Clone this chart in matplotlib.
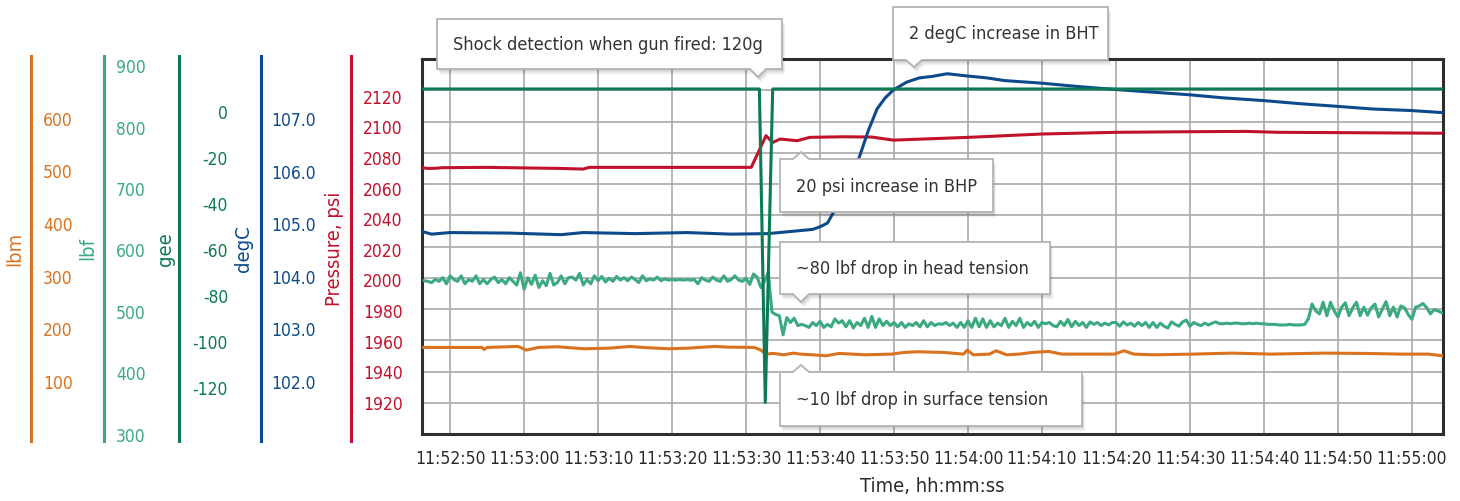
import numpy as np
import matplotlib
matplotlib.use("Agg")
import matplotlib.pyplot as plt
from matplotlib.ticker import MultipleLocator, FuncFormatter
from matplotlib.patches import Polygon
from datetime import datetime, timedelta

plt.rcParams["font.family"] = ["DejaVu Sans"]
plt.rcParams["font.stretch"] = "condensed"

# time axis: seconds after 11:52:50
T0 = datetime(2000, 1, 1, 11, 52, 50)
XLIM = (-3.8, 134.2)

# --- pressure, psi (BHP) ---
p_t = [-3.8, -3.0, -2.0, -1.0, 5.0, 14.9, 18.0, 18.8, 30.0, 40.7, 42.7, 43.6, 44.6,
       46.9, 48.6, 53.2, 57.0, 59.9, 70.0, 80.0, 90.0, 100.0, 107.5, 112.0, 120.0, 134.2]
p_v = [2073.0, 2072.5, 2072.6, 2073.0, 2073.2, 2072.5, 2072.1, 2073.2, 2073.2, 2073.2,
       2093.9, 2089.5, 2091.7, 2090.6, 2092.8, 2093.2, 2093.0, 2091.0, 2092.8, 2095.0,
       2096.1, 2096.5, 2096.7, 2096.1, 2095.9, 2095.5]

# --- temperature, degC (BHT) ---
t_t = [-3.8, -2.5, 0, 8, 15, 18, 25, 32, 38, 43, 46, 49, 50, 51, 51.8, 53, 54, 55.3,
       56.5, 57.7, 58.8, 59.9, 61.7, 63.4, 65.2, 67.2, 69.7, 72.6, 74.9, 80, 84.6, 89.9,
       94.9, 99.9, 104.6, 109.9, 114.9, 119.9, 124.6, 129.9, 134.2]
t_v = [104.84, 104.79, 104.82, 104.81, 104.78, 104.82, 104.80, 104.82, 104.79, 104.80,
       104.84, 104.88, 104.93, 105.00, 105.20, 105.55, 105.85, 106.25, 106.75, 107.17,
       107.38, 107.53, 107.68, 107.76, 107.79, 107.84, 107.80, 107.76, 107.71, 107.66,
       107.60, 107.54, 107.49, 107.44, 107.38, 107.33, 107.27, 107.22, 107.17, 107.14, 107.10]

# --- shock, gee ---
g_t = [-3.8, 41.8, 42.6, 43.6, 134.2]
g_v = [9.4, 9.4, -126.5, 9.4, 9.4]

# --- surface tension, lbm ---
m_t = [-3.8, 4.3, 4.6, 5.0, 9.2, 10.3, 11.9, 14.5, 18.1, 21.6, 24.3, 26.0, 29.6, 32.2,
       35.8, 37.5, 41.1, 42.0, 42.7, 43.7, 45.1, 46.4, 47.3, 49.0, 50.8, 52.6, 56.1, 59.7,
       61.4, 63.2, 66.7, 69.4, 69.9, 70.7, 72.9, 73.8, 75.2, 76.9, 78.7, 80.9, 82.7, 86.2,
       89.8, 91.1, 92.4, 95.1, 100.4, 105.7, 111.0, 118.1, 123.4, 128.7, 132.2, 134.2]
m_v = [163.2, 163.2, 159.4, 163.2, 165.1, 158.1, 163.2, 164.5, 160.7, 161.9, 165.1, 163.2,
       160.7, 161.9, 165.1, 163.8, 163.2, 158.1, 150.5, 151.8, 149.2, 152.4, 150.5, 149.2,
       147.3, 151.8, 149.2, 150.5, 153.7, 155.0, 153.7, 150.5, 158.1, 149.2, 150.5, 156.9,
       149.2, 150.5, 153.7, 155.6, 150.5, 150.5, 150.5, 156.9, 150.5, 149.2, 150.5, 152.4,
       150.5, 152.4, 151.8, 150.5, 150.5, 147.3]

# --- head tension, lbf (sampled every 0.5 s, three logged blocks) ---
LBF_DT = 0.5
lbf_pre_start = -3.5
lbf_pre = [549, 548, 546, 551, 548, 554, 544, 557, 551, 548,
           557, 544, 551, 548, 557, 544, 551, 544, 551, 555,
           546, 551, 544, 554, 548, 542, 562, 535, 554, 543,
           558, 538, 549, 541, 561, 542, 546, 557, 544, 554,
           555, 550, 561, 542, 551, 544, 557, 549, 556, 547,
           553, 548, 556, 550, 554, 549, 555, 551, 546, 557,
           549, 552, 550, 555, 549, 552, 550, 551, 550, 551,
           550, 551, 550, 551, 544, 554, 550, 548, 555, 550,
           548, 557, 548, 551, 557, 550, 548, 553, 543, 560,
           555]
lbf_mid_start = 42.0
lbf_mid = [538, 548, 563, 498, 494, 492, 461, 489, 481, 488,
           476, 478, 476, 473, 481, 476, 483, 473, 478, 474,
           487, 480, 484, 474, 484, 472, 481, 476, 488, 473,
           491, 473, 487, 476, 483, 476, 481, 474, 481, 473,
           479, 476, 481, 474, 484, 474, 481, 476, 479, 478,
           481, 476, 480, 473, 481, 473, 484, 473, 488, 474,
           487, 473, 484, 474, 480, 476, 488, 473, 483, 476,
           488, 473, 481, 476, 483, 473, 481, 479, 481, 476,
           474, 483, 476, 486, 474, 483, 476, 481, 473, 482,
           478, 481, 476, 480, 477, 481]
lbf_end_start = 90.0
lbf_end = [481, 475, 482, 477, 480, 475, 481, 476, 481, 473,
           481, 473, 480, 475, 472, 482, 478, 475, 482, 485,
           475, 481, 478, 476, 480, 477, 480, 482, 479, 479,
           480, 479, 480, 480, 479, 479, 480, 479, 480, 479,
           479, 478, 478, 478, 477, 477, 477, 478, 477, 477,
           477, 478,
           487, 511, 500, 495, 514, 492, 514, 500, 490, 506,
           513, 492, 505, 514, 492, 506, 493, 505, 511, 490,
           503, 515, 492, 506, 490, 508, 505, 494, 486, 506,
           508, 512, 505, 495, 502, 500, 497]

notes = ["Shock detection when gun fired: 120g",
         "2 degC increase in BHT",
         "20 psi increase in BHP",
         "~80 lbf drop in head tension",
         "~10 lbf drop in surface tension"]

# ------------------------------------------------------------------
C_LBM, C_LBF, C_GEE, C_DEG, C_PSI = "#D9731F", "#3BAA80", "#0B7A55", "#0C4A8C", "#C1122B"
TXT = "#2a2a2a"
TICK_FS, LABEL_FS, NOTE_FS = 12.5, 14.5, 13

W, H = 1460, 502
L, R, T, B = 422, 1443, 60, 435
fig = plt.figure(figsize=(W / 100, H / 100), dpi=100)
fig.patch.set_facecolor("white")

ax = fig.add_axes([L / W, 1 - B / H, (R - L) / W, (B - T) / H])
ax.set_xlim(XLIM)
ax.set_ylim(0, 12)
ax.set_yticks(range(13))
ax.xaxis.set_major_locator(MultipleLocator(10))
ax.xaxis.set_major_formatter(
    FuncFormatter(lambda v, pos: (T0 + timedelta(seconds=v)).strftime("%H:%M:%S")))
ax.tick_params(axis="y", length=0, labelleft=False)
ax.tick_params(axis="x", length=0, pad=10.5, labelsize=TICK_FS, labelcolor=TXT)
ax.grid(True, color="#A9A9A9", lw=1.2)
for s in ax.spines.values():
    s.set_color("#2e2e2e")
    s.set_linewidth(2.2)
ax.set_xlabel("Time, hh:mm:ss", fontsize=LABEL_FS, color=TXT, labelpad=7)


def series_axis(ylim):
    tw = ax.twinx()
    tw.set_ylim(ylim)
    tw.axis("off")
    return tw


lims = {
    "psi": (1899, 2144),
    "deg": (100.99, 108.12),
    "lbm": (-1.5, 712),
    "lbf": (299.5, 910),
    "gee": (-140.2, 22.4),
}

LW = 2.2
ax_psi = series_axis(lims["psi"])
ax_psi.plot(p_t, p_v, color=C_PSI, lw=LW)
ax_deg = series_axis(lims["deg"])
ax_deg.plot(t_t, t_v, color=C_DEG, lw=LW)
ax_lbm = series_axis(lims["lbm"])
ax_lbm.plot(m_t, m_v, color=C_LBM, lw=LW)
ax_lbf = series_axis(lims["lbf"])
lbf_t = np.concatenate([lbf_pre_start + LBF_DT * np.arange(len(lbf_pre)),
                        lbf_mid_start + LBF_DT * np.arange(len(lbf_mid)),
                        lbf_end_start + LBF_DT * np.arange(len(lbf_end))])
lbf_v = np.concatenate([lbf_pre, lbf_mid, lbf_end])
ax_lbf.plot(lbf_t, lbf_v, color=C_LBF, lw=LW)
ax_gee = series_axis(lims["gee"])
ax_gee.plot(g_t, g_v, color=C_GEE, lw=LW)


# --- stacked scales on the left ---
def scale_axis(x_px, label_x, ylim, ticks, label, color, fmt="{:.0f}", pad_px=7, right=False):
    sa = fig.add_axes([x_px / W, 1 - B / H, 0.0001, (B - T) / H])
    sa.set_ylim(ylim)
    sa.patch.set_visible(False)
    for s in ("right", "top", "bottom"):
        sa.spines[s].set_visible(False)
    sp = sa.spines["left"]
    sp.set_color(color)
    sp.set_linewidth(2.2)
    span = ylim[1] - ylim[0]
    sp.set_bounds(ylim[0] - 0.019 * span, ylim[1] + 0.008 * span)
    sa.xaxis.set_visible(False)
    sa.set_yticks(ticks)
    sa.set_yticklabels([fmt.format(v) for v in ticks])
    sa.tick_params(axis="y", left=False, right=False, labelleft=False, labelright=True,
                   labelcolor=color, labelsize=TICK_FS, pad=pad_px * 0.72)
    if right:
        plt.setp(sa.yaxis.get_majorticklabels(), ha="right")
    sa.set_ylabel(label, color=color, fontsize=LABEL_FS, va="center")
    sa.yaxis.set_label_coords(label_x / W, 1 - 249 / H, transform=fig.transFigure)
    return sa


scale_axis(31, 15, lims["lbm"], [100, 200, 300, 400, 500, 600], "lbm", C_LBM)
scale_axis(104, 88, lims["lbf"], [300, 400, 500, 600, 700, 800, 900], "lbf", C_LBF)
scale_axis(179, 166, lims["gee"], [-120, -100, -80, -60, -40, -20, 0], "gee", C_GEE,
           pad_px=44, right=True)
scale_axis(261, 244, lims["deg"], [102, 103, 104, 105, 106, 107], "degC", C_DEG, fmt="{:.1f}",
           pad_px=5)
scale_axis(351, 335, lims["psi"], list(range(1920, 2121, 20)), "Pressure, psi", C_PSI)


# --- callouts (pixel layout, top-left origin) ---
boxes = [(437, 20, 782, 70, 758, 78),
         (893, 8, 1108, 61, 914, 68),
         (780, 160, 993, 213, 801, 153),
         (780, 243, 1050, 295, 801, 303),
         (780, 373, 1082, 427, 801, 366)]


def fpt(x, y):
    return (x / W, 1 - y / H)


def callout(box, text):
    x0, y0, x1, y1, tx, ty = box
    hw = 8
    if ty < y0:
        pts = [(x0, y0), (tx - hw, y0), (tx, ty), (tx + hw, y0), (x1, y0), (x1, y1), (x0, y1)]
    else:
        pts = [(x0, y0), (x1, y0), (x1, y1), (tx + hw, y1), (tx, ty), (tx - hw, y1), (x0, y1)]
    for k in range(1, 7):
        sh = [fpt(x + 0.5 * k, y + 0.9 * k) for x, y in pts]
        fig.add_artist(Polygon(sh, closed=True, transform=fig.transFigure, fc="black",
                               ec="none", alpha=0.035, zorder=9))
    fig.add_artist(Polygon([fpt(x, y) for x, y in pts], closed=True, transform=fig.transFigure,
                           fc="white", ec="#B3B3B3", lw=1.3, zorder=10))
    fig.text((x0 + 16) / W, 1 - (y0 + y1) / 2 / H, text, ha="left", va="center",
             fontsize=NOTE_FS, color="#333333", zorder=11)


for b, n in zip(boxes, notes):
    callout(b, n)

fig.savefig("out.png", dpi=100)
